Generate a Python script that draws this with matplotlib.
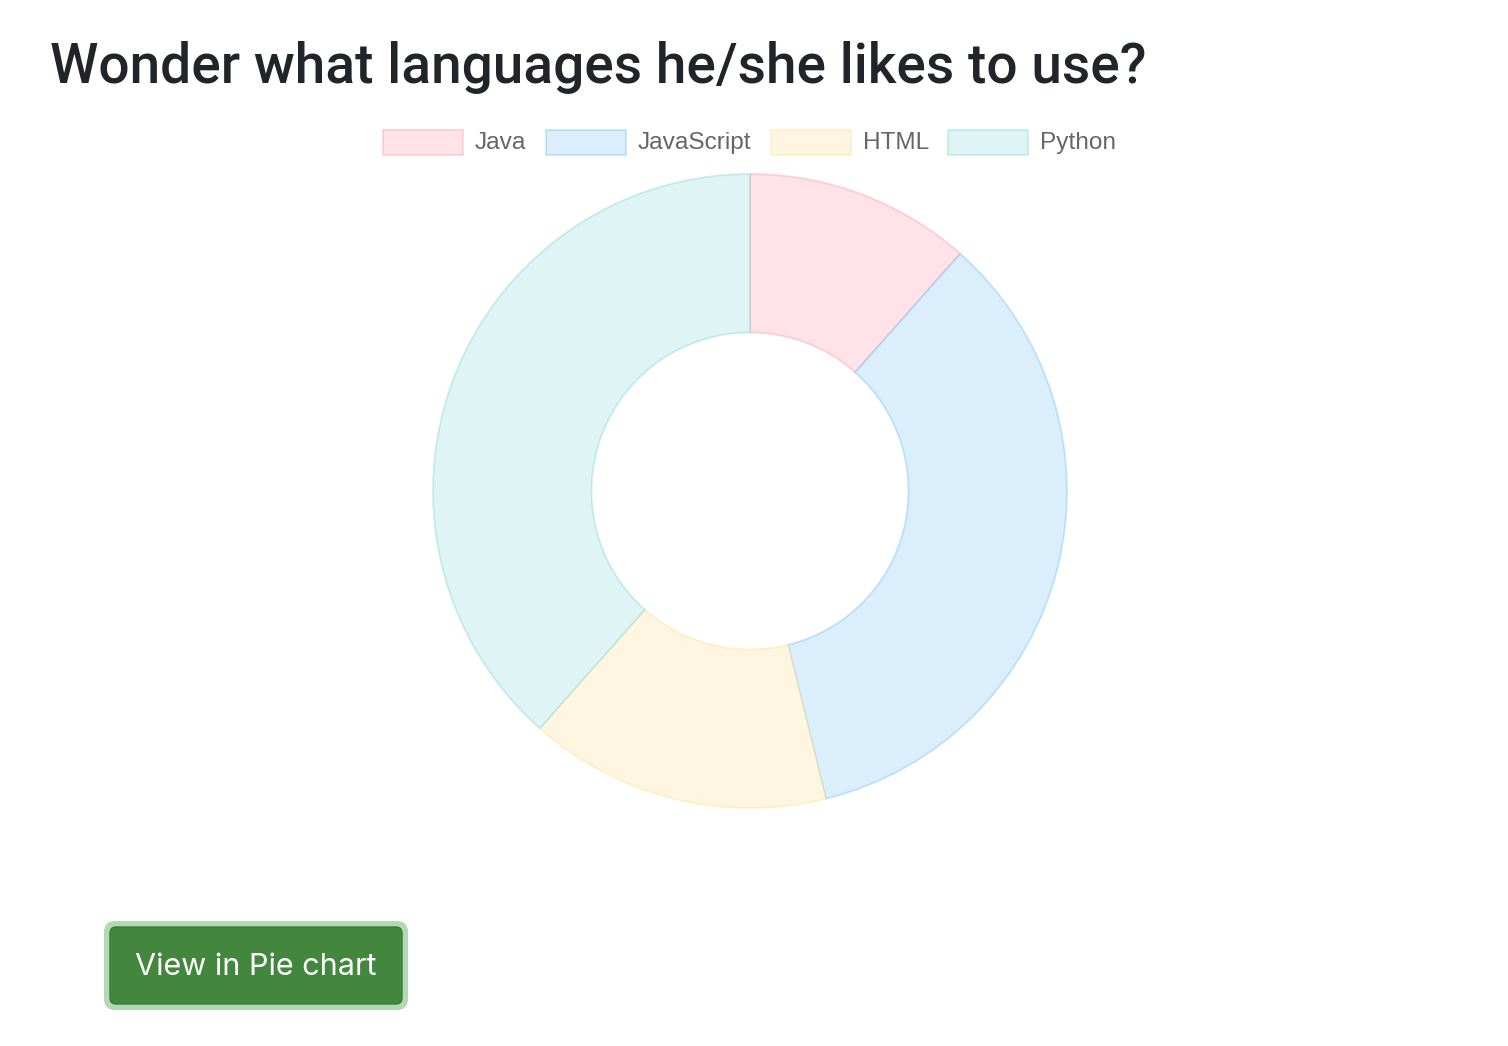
import matplotlib
matplotlib.use("Agg")
import matplotlib.pyplot as plt
from matplotlib.patches import Rectangle, FancyBboxPatch

labels = ["Java", "JavaScript", "HTML", "Python"]
counts = [3, 9, 4, 10]
base_rgb = [(255, 99, 132), (54, 162, 235), (255, 206, 86), (75, 192, 192)]

title = "Wonder what languages he/she likes to use?"
button_text = "View in Pie chart"

W, H = 1508, 1046


def blend(rgb, a):
    # colour with alpha a over white, as a solid colour
    return tuple((255 - a * (255 - c)) / 255 for c in rgb)


fill_cols = [blend(c, 0.18) for c in base_rgb]
edge_cols = [tuple(v / 255 for v in c) + (0.25,) for c in base_rgb]

fig = plt.figure(figsize=(W / 100, H / 100), dpi=100)
ax = fig.add_axes([0, 0, 1, 1])

# everything is placed in pixel units, y measured from the bottom
cx, cy, r = 750, H - 491, 317
wedges, _ = ax.pie(counts, colors=fill_cols, startangle=90, counterclock=False,
                   center=(cx, cy), radius=r,
                   wedgeprops=dict(width=r * 0.5, linewidth=1.3))
for w, ec in zip(wedges, edge_cols):
    w.set_edgecolor(ec)

ax.set_xlim(0, W)
ax.set_ylim(0, H)
ax.set_aspect("equal")
ax.axis("off")

ax.text(50, H - 83, title, fontsize=39.6, family=["Roboto", "DejaVu Sans"],
        fontweight="medium", color="#212529", va="baseline", ha="left")

# legend
box_x = [383, 546, 771, 948]
for x0, lab, fc, ec in zip(box_x, labels, fill_cols, edge_cols):
    ax.add_patch(Rectangle((x0, H - 155), 80, 25, facecolor=fc, edgecolor=ec,
                           linewidth=1.3))
    ax.text(x0 + 92, H - 143, lab, fontsize=17.6,
            family=["Liberation Sans", "DejaVu Sans"], color="#666666",
            va="center", ha="left")

# button with its focus ring
ax.add_patch(FancyBboxPatch((104, H - 1010), 304, 89,
                            boxstyle="round,pad=0,rounding_size=11",
                            facecolor="#b3d8b5", edgecolor="none"))
ax.add_patch(FancyBboxPatch((110, H - 1004), 292, 77,
                            boxstyle="round,pad=0,rounding_size=6",
                            facecolor="#43873f", edgecolor="#3a7a37",
                            linewidth=1))
ax.text(256, H - 967, button_text, fontsize=22, family=["Inter", "DejaVu Sans"],
        color="white", va="center", ha="center")

fig.savefig("out.png", dpi=100)
